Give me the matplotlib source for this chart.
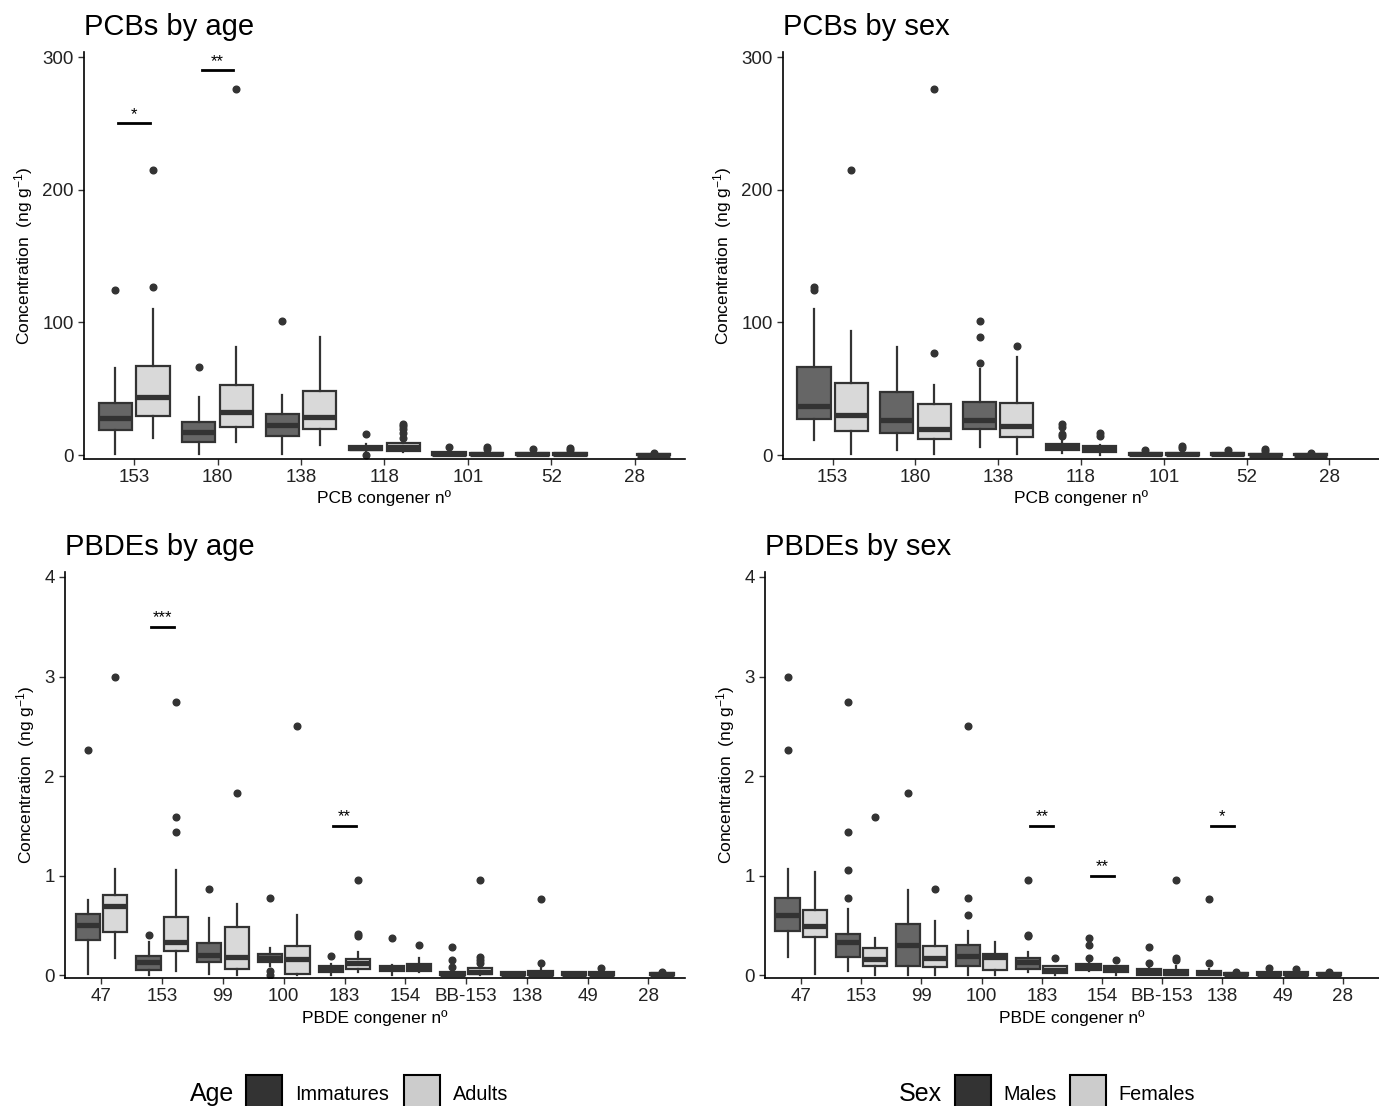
import matplotlib
matplotlib.use("Agg")
import matplotlib.pyplot as plt
from matplotlib.patches import Rectangle

plt.rcParams["font.family"] = ["Liberation Sans", "DejaVu Sans"]
plt.rcParams["mathtext.fontset"] = "custom"
plt.rcParams["mathtext.rm"] = "Liberation Sans"
plt.rcParams["mathtext.it"] = "Liberation Sans:italic"

# stats per box: (whisker low, q1, median, q3, whisker high, outliers)
pcb_cats = ["153", "180", "138", "118", "101", "52", "28"]
pcb_imm = [
    (1, 18.9, 27.7, 39, 65.4, [124.5]),
    (0.8, 10, 17.6, 24.6, 44, [66.6]),
    (0.8, 14.6, 22.6, 30.9, 45.3, [101.3]),
    (2.5, 3.8, 5.5, 6.8, 8, [15.8, 0]),
    (0, 0, 1, 2.5, 4, [6.3]),
    (0, 0, 0.5, 1.2, 2.5, [4.5]),
    None,
]
pcb_adu = [
    (12.6, 29.4, 43.5, 67.1, 110, [127, 215]),
    (10, 20.9, 32.7, 52.8, 81.7, [276]),
    (7.5, 19.6, 28.4, 48, 88.8, []),
    (2, 3.3, 6, 9, 11, [23.4, 22, 19.6, 16.3, 12.5]),
    (0, 0, 0.6, 1.8, 3, [5.8, 4.3]),
    (0, 0, 0.6, 1.8, 3, [5.3, 3.8]),
    (0, 0, 0.3, 0.8, 1.2, [1.5]),
]
pcb_male = [
    (11.3, 27.2, 37.2, 66.6, 110, [127, 124.5]),
    (3.8, 16.6, 26.4, 47.8, 81.7, []),
    (6.3, 19.6, 26.4, 39.7, 64.9, [69.1, 88.8, 101.3]),
    (1.5, 3.8, 6, 8.3, 12, [23.4, 20.9, 15.8, 14.6]),
    (0, 0, 0.5, 1.5, 2.5, [3.8]),
    (0, 0, 0.5, 1.5, 2.5, [3.8]),
    (0, 0, 0.3, 0.8, 1.0, [1.3]),
]
pcb_fem = [
    (0.8, 18.4, 30.2, 54, 93.8, [215]),
    (0.8, 12, 19.6, 38.5, 52.8, [77.2, 276]),
    (0.8, 13.8, 22.1, 39, 74.2, [82.5]),
    (0, 2.5, 5, 7, 7.5, [16.6, 14.6]),
    (0, 0, 0.6, 1.8, 3, [6.5, 5.3]),
    (0, 0, 0.3, 0.8, 1.5, [4.8, 3.3]),
    None,
]

pbde_cats = ["47", "153", "99", "100", "183", "154", "BB-153", "138", "49", "28"]
pbde_imm = [
    (0.01, 0.355, 0.506, 0.613, 0.754, [2.263]),
    (0, 0.05, 0.127, 0.188, 0.329, [0.402]),
    (0.01, 0.127, 0.204, 0.318, 0.573, [0.865]),
    (0.094, 0.127, 0.171, 0.211, 0.268, [0.774, 0.037, 0.005]),
    (0, 0.027, 0.07, 0.094, 0.11, [0.194]),
    (0, 0.044, 0.07, 0.094, 0.1, [0.372]),
    (0, 0, 0.01, 0.027, 0.037, [0.278, 0.154, 0.084]),
    (0, 0, 0.01, 0.027, 0.033, []),
    (0, 0, 0.012, 0.027, 0.03, []),
    None,
]
pbde_adu = [
    (0.168, 0.436, 0.697, 0.805, 1.066, [3.0]),
    (0.037, 0.245, 0.329, 0.58, 1.056, [1.435, 1.592, 2.742]),
    (0, 0.057, 0.184, 0.479, 0.714, [1.83]),
    (0, 0.01, 0.161, 0.295, 0.607, [2.507]),
    (0.027, 0.057, 0.121, 0.161, 0.228, [0.412, 0.389, 0.955]),
    (0.027, 0.037, 0.08, 0.11, 0.171, [0.305]),
    (0, 0.01, 0.03, 0.067, 0.1, [0.178, 0.154, 0.121, 0.955]),
    (0, 0, 0.015, 0.044, 0.077, [0.117, 0.764]),
    (0, 0, 0.012, 0.027, 0.04, [0.07]),
    (0, 0, 0.008, 0.017, 0.025, [0.033]),
]
pbde_male = [
    (0.178, 0.446, 0.603, 0.774, 1.066, [2.263, 3.0]),
    (0.044, 0.178, 0.335, 0.412, 0.664, [0.771, 1.056, 1.435, 2.742]),
    (0, 0.087, 0.302, 0.513, 0.858, [1.83]),
    (0, 0.094, 0.194, 0.302, 0.446, [0.607, 0.771, 2.507]),
    (0.033, 0.06, 0.134, 0.168, 0.235, [0.396, 0.406, 0.955]),
    (0.044, 0.054, 0.08, 0.11, 0.127, [0.171, 0.305, 0.372]),
    (0, 0.003, 0.03, 0.06, 0.077, [0.121, 0.278]),
    (0, 0, 0.02, 0.044, 0.06, [0.117, 0.764]),
    (0, 0, 0.012, 0.027, 0.04, [0.07]),
    (0, 0, 0.008, 0.017, 0.025, [0.033]),
]
pbde_fem = [
    (0.01, 0.386, 0.489, 0.657, 1.039, []),
    (0, 0.094, 0.161, 0.268, 0.369, [1.592]),
    (0, 0.077, 0.171, 0.295, 0.54, [0.865]),
    (0, 0.054, 0.178, 0.211, 0.329, []),
    (0, 0.02, 0.05, 0.087, 0.087, [0.171]),
    (0, 0.034, 0.06, 0.094, 0.094, [0.151]),
    (0, 0, 0.02, 0.05, 0.094, [0.154, 0.171, 0.955]),
    (0, 0, 0.008, 0.02, 0.025, [0.033]),
    (0, 0, 0.012, 0.027, 0.035, [0.06]),
    None,
]

# significance bars: (category index, y, label)
sig_pcb_age = [(0, 250, "*"), (1, 290, "**")]
sig_pcb_sex = []
sig_pbde_age = [(1, 3.5, "***"), (4, 1.5, "**")]
sig_pbde_sex = [(4, 1.5, "**"), (5, 1.0, "**"), (7, 1.5, "*")]

DARK_FILL = "#666666"
LIGHT_FILL = "#d9d9d9"
EDGE = "#333333"


def panel(ax, cats, sa, sb, sigs, ylim, yticks, title, xlabel):
    for i in range(len(cats)):
        for s, off, fc in ((sa[i], -0.225, DARK_FILL), (sb[i], 0.225, LIGHT_FILL)):
            if s is None:
                continue
            lo, q1, med, q3, hi, fl = s
            ax.bxp([dict(whislo=lo, q1=q1, med=med, q3=q3, whishi=hi, fliers=fl)],
                   positions=[i + 1 + off], widths=0.4, patch_artist=True,
                   showcaps=False,
                   boxprops=dict(facecolor=fc, edgecolor=EDGE, linewidth=1.6),
                   whiskerprops=dict(color=EDGE, linewidth=1.6),
                   medianprops=dict(color=EDGE, linewidth=3.8, solid_capstyle="butt"),
                   flierprops=dict(marker="o", markersize=4.8, markerfacecolor=EDGE,
                                   markeredgecolor=EDGE, linestyle="none"))
    span = ylim[1] - ylim[0]
    for idx, y, lab in sigs:
        ax.plot([idx + 1 - 0.19, idx + 1 + 0.19], [y, y], color="black", lw=2)
        ax.text(idx + 1, y + span * 0.004, lab, ha="center", va="bottom", fontsize=12)
    ax.set_xlim(0.4, len(cats) + 0.6)
    ax.set_ylim(*ylim)
    ax.set_xticks(range(1, len(cats) + 1))
    ax.set_xticklabels(cats)
    ax.set_yticks(yticks)
    ax.spines["top"].set_visible(False)
    ax.spines["right"].set_visible(False)
    for sp in ("left", "bottom"):
        ax.spines[sp].set_linewidth(1.2)
    ax.tick_params(length=4, width=1, colors=EDGE, labelsize=13.5, labelcolor="#222222")
    ax.set_title(title, loc="left", fontsize=21, pad=12)
    ax.set_xlabel(xlabel, fontsize=12.5, labelpad=3)
    ax.set_ylabel("Concentration  (ng g$^{-1}$)", fontsize=12.5, labelpad=5)


fig = plt.figure(figsize=(13.79, 11.06), dpi=100)
ax1 = fig.add_axes([0.0609, 0.585, 0.4358, 0.368])
ax2 = fig.add_axes([0.5678, 0.585, 0.4322, 0.368])
ax3 = fig.add_axes([0.0471, 0.1157, 0.4496, 0.3671])
ax4 = fig.add_axes([0.5547, 0.1157, 0.4453, 0.3671])

panel(ax1, pcb_cats, pcb_imm, pcb_adu, sig_pcb_age, (-3, 303.8), [0, 100, 200, 300],
      "PCBs by age", "PCB congener nº")
panel(ax2, pcb_cats, pcb_male, pcb_fem, sig_pcb_sex, (-3, 303.8), [0, 100, 200, 300],
      "PCBs by sex", "PCB congener nº")
panel(ax3, pbde_cats, pbde_imm, pbde_adu, sig_pbde_age, (-0.03, 4.05), [0, 1, 2, 3, 4],
      "PBDEs by age", "PBDE congener nº")
panel(ax4, pbde_cats, pbde_male, pbde_fem, sig_pbde_sex, (-0.03, 4.05), [0, 1, 2, 3, 4],
      "PBDEs by sex", "PBDE congener nº")

# legends along the bottom edge
W, H = 1379, 1106


def legend(title, tx, keys):
    fig.text(tx / W, 1 - 1094 / H, title, fontsize=18, va="center", ha="left")
    for kx, fc, lab, lx in keys:
        fig.add_artist(Rectangle((kx / W, 1 - 1112 / H), 36 / W, 37 / H, transform=fig.transFigure,
                                 facecolor=fc, edgecolor="black", linewidth=1.5, clip_on=False))
        fig.text(lx / W, 1 - 1094 / H, lab, fontsize=14.3, va="center", ha="left")


legend("Age", 190, [(246, "#333333", "Immatures", 295), (404, "#cccccc", "Adults", 453)])
legend("Sex", 899, [(955, "#333333", "Males", 1003), (1070, "#cccccc", "Females", 1118)])

fig.savefig("out.png", dpi=100)
